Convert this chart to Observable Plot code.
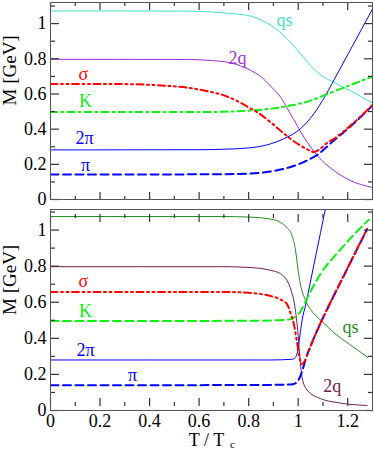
<!DOCTYPE html>
<html><head><meta charset="utf-8">
<script src="https://cdn.jsdelivr.net/npm/d3@7"></script>
<script src="https://cdn.jsdelivr.net/npm/@observablehq/plot@0.6"></script>
<style>
body{margin:0;background:#fff}
#c{position:relative;width:374px;height:450px}
#c svg{position:absolute;left:0;display:block;overflow:visible}
</style>
</head><body><div id="c"></div>
<script>
const xMajor = [0, 0.2, 0.4, 0.6, 0.8, 1, 1.2];
const xMinor = [0.1, 0.3, 0.5, 0.7, 0.9, 1.1];
const yMajor = [0, 0.2, 0.4, 0.6, 0.8, 1];
const yMinor = [0.1, 0.3, 0.5, 0.7, 0.9, 1.1];

const topQs = [[0,1.072],[0.55,1.071],[0.65,1.066],[0.73,1.057],[0.81,1.042],[0.85,1.02],[0.89,0.989],[0.94,0.935],[1.01,0.828],[1.05,0.761],[1.10,0.698],[1.144,0.667],[1.21,0.619],[1.3,0.548]];
const top2q = [[0,0.797],[0.55,0.796],[0.65,0.79],[0.727,0.777],[0.807,0.735],[0.848,0.70],[0.888,0.645],[0.929,0.582],[0.955,0.52],[0.982,0.455],[1.023,0.355],[1.077,0.25],[1.144,0.165],[1.211,0.108],[1.3,0.068]];
const topSigma = [[0,0.657],[0.3,0.656],[0.45,0.648],[0.55,0.636],[0.646,0.612],[0.70,0.592],[0.767,0.55],[0.807,0.518],[0.834,0.497],[0.888,0.44],[0.93,0.39],[0.969,0.345],[1.009,0.307],[1.04,0.282],[1.063,0.27],[1.085,0.284],[1.117,0.322],[1.144,0.345],[1.211,0.42],[1.3,0.537]];
const topK = [[0,0.497],[0.6,0.497],[0.7,0.499],[0.807,0.506],[0.888,0.516],[0.969,0.534],[1.05,0.562],[1.11,0.595],[1.2,0.645],[1.3,0.699]];
const top2pi = [[0,0.282],[0.6,0.283],[0.7,0.286],[0.807,0.294],[0.888,0.316],[0.942,0.345],[1.009,0.402],[1.063,0.487],[1.11,0.591],[1.137,0.66],[1.211,0.852],[1.3,1.083]];
const topPi = [[0,0.142],[0.6,0.143],[0.7,0.144],[0.807,0.148],[0.888,0.159],[0.969,0.185],[1.036,0.222],[1.077,0.254],[1.144,0.335],[1.211,0.415],[1.3,0.535]];

const botQs = [[0,1.075],[0.7,1.075],[0.8,1.072],[0.888,1.061],[0.929,1.042],[0.955,1.013],[0.976,0.966],[0.989,0.89],[0.998,0.795],[1.009,0.70],[1.03,0.61],[1.05,0.56],[1.09,0.502],[1.157,0.417],[1.225,0.35],[1.281,0.294]];
const bot2q = [[0,0.797],[0.7,0.797],[0.8,0.793],[0.888,0.777],[0.929,0.758],[0.955,0.72],[0.972,0.663],[0.985,0.59],[0.998,0.445],[1.006,0.31],[1.016,0.18],[1.036,0.114],[1.09,0.066],[1.157,0.044],[1.278,0.028]];
const botSigma = [[0,0.657],[0.7,0.657],[0.8,0.652],[0.888,0.635],[0.929,0.615],[0.955,0.59],[0.969,0.54],[0.982,0.483],[0.995,0.38],[1.006,0.29],[1.013,0.256],[1.025,0.27],[1.04,0.32],[1.06,0.39],[1.09,0.485],[1.13,0.60],[1.2,0.792],[1.278,1.006]];
const botK = [[0,0.496],[0.8,0.497],[0.888,0.499],[0.962,0.505],[0.989,0.52],[1.009,0.549],[1.023,0.585],[1.05,0.66],[1.09,0.757],[1.157,0.871],[1.225,0.975],[1.285,1.057]];
const bot2pi = [[0,0.28],[0.8,0.28],[0.888,0.28],[0.976,0.284],[0.989,0.294],[0.998,0.331],[1.006,0.407],[1.016,0.502],[1.03,0.585],[1.06,0.785],[1.09,0.985],[1.12,1.185]];
const botPi = [[0,0.14],[0.8,0.141],[0.888,0.142],[0.95,0.143],[0.982,0.147],[1.002,0.17],[1.016,0.218],[1.03,0.284],[1.06,0.39],[1.09,0.483],[1.13,0.597],[1.2,0.79],[1.278,1.004]];

const topLabels = [
  {t:0.945, m:1.020, s:"qs", c:"#40e0d0"},
  {t:0.755, m:0.804, s:"2q", c:"#9b30d8"},
  {t:0.133, m:0.710, s:"σ", c:"#ff0000"},
  {t:0.141, m:0.557, s:"K", c:"#11ee11"},
  {t:0.137, m:0.347, s:"2π", c:"#0000ff"},
  {t:0.141, m:0.193, s:"π", c:"#0000ff"}
];
const botLabels = [
  {t:1.211, m:0.460, s:"qs", c:"#228b22"},
  {t:1.138, m:0.136, s:"2q", c:"#70204f"},
  {t:0.133, m:0.716, s:"σ", c:"#ff0000"},
  {t:0.141, m:0.548, s:"K", c:"#11ee11"},
  {t:0.141, m:0.335, s:"2π", c:"#0000ff"},
  {t:0.331, m:0.193, s:"π", c:"#0000ff"}
];

const SERIF = "Liberation Serif, Times New Roman, serif";
const FRAME = "#555";
const TICK = "#333";
const W = 374, ML = 50, MR = 2;
const FW = W - ML - MR;

// inward ticks: axis tick marks drawn from the opposite side, shifted across the frame
function tickMarks(fh) {
  const o = {stroke: TICK, strokeWidth: 1.2, fill: "none", label: null};
  return [
    Plot.axisX(xMajor, {anchor: "top", tickSize: 8, dy: fh, ...o}),
    Plot.axisX(xMinor, {anchor: "top", tickSize: 4, dy: fh, ...o}),
    Plot.axisX(xMajor, {anchor: "bottom", tickSize: 8, dy: -fh, ...o}),
    Plot.axisX(xMinor, {anchor: "bottom", tickSize: 4, dy: -fh, ...o}),
    Plot.axisY(yMajor, {anchor: "right", tickSize: 8, dx: -FW, ...o}),
    Plot.axisY(yMinor, {anchor: "right", tickSize: 4, dx: -FW, ...o}),
    Plot.axisY(yMajor, {anchor: "left", tickSize: 8, dx: FW, ...o}),
    Plot.axisY(yMinor, {anchor: "left", tickSize: 4, dx: FW, ...o})
  ];
}

function curves(s, colQs, col2q) {
  const X = d => d[0], Y = d => d[1];
  const c = "monotone-x";
  return [
    Plot.line(s.qs, {x: X, y: Y, stroke: colQs, strokeWidth: 1, curve: c, clip: true}),
    Plot.line(s.q2, {x: X, y: Y, stroke: col2q, strokeWidth: 1, curve: c, clip: true}),
    Plot.line(s.pi2, {x: X, y: Y, stroke: "#0000ff", strokeWidth: 1, curve: c, clip: true}),
    Plot.line(s.k, {x: X, y: Y, stroke: "#11ee11", strokeWidth: 2, curve: c, clip: true, strokeDasharray: s.kDash}),
    Plot.line(s.pi, {x: X, y: Y, stroke: "#0000ff", strokeWidth: 2, curve: c, clip: true, strokeDasharray: "8,4.5"}),
    Plot.line(s.sigma, {x: X, y: Y, stroke: "#ff0000", strokeWidth: 2, curve: c, clip: true, strokeDasharray: "7,3.5,2,3.5,2,3.5"})
  ];
}

function labelMarks(lbls) {
  return Plot.text(lbls, {x: "t", y: "m", text: "s", fill: "c", fontSize: 18, fontFamily: SERIF});
}

function yTickLabels() {
  return Plot.axisY(yMajor, {anchor: "left", tickSize: 0, tickPadding: 4, stroke: "none",
    fill: "black", fontSize: 18, fontFamily: SERIF, tickFormat: d => String(d), label: null});
}

function yTitle(dy) {
  return Plot.text(["M [GeV]"], {frameAnchor: "left", dx: -41, dy, rotate: -90, fontSize: 19,
    fontFamily: SERIF, fill: "black", ariaLabel: "ytitle"});
}

const topSvg = Plot.plot({
  width: W, height: 212,
  marginLeft: ML, marginRight: MR, marginTop: 2, marginBottom: 13,
  style: {background: "transparent", overflow: "visible"},
  x: {domain: [0, 1.3], axis: null},
  y: {domain: [0, 1.12], axis: null},
  marks: [
    ...curves({qs: topQs, q2: top2q, pi2: top2pi, k: topK, pi: topPi, sigma: topSigma, kDash: "7,4,2,4"}, "#40e0d0", "#9b30d8"),
    labelMarks(topLabels),
    ...tickMarks(197),
    yTickLabels(),
    yTitle(4.5),
    Plot.frame({stroke: FRAME, strokeWidth: 1})
  ]
});

const botSvg = Plot.plot({
  width: W, height: 245,
  marginLeft: ML, marginRight: MR, marginTop: 4, marginBottom: 40,
  style: {background: "transparent", overflow: "visible"},
  x: {domain: [0, 1.3], axis: null},
  y: {domain: [0, 1.114], axis: null},
  marks: [
    ...curves({qs: botQs, q2: bot2q, pi2: bot2pi, k: botK, pi: botPi, sigma: botSigma, kDash: "8,4.5"}, "#228b22", "#70204f"),
    labelMarks(botLabels),
    ...tickMarks(196),
    yTickLabels(),
    Plot.axisX(xMajor, {anchor: "bottom", tickSize: 0, tickPadding: 4, stroke: "none",
      fill: "black", fontSize: 18, fontFamily: SERIF, tickFormat: d => String(d), label: null}),
    yTitle(5),
    Plot.text(["T / T"], {frameAnchor: "bottom", dx: -22.7, dy: 35.5, textAnchor: "start", lineAnchor: "bottom",
      fontSize: 18, fontFamily: SERIF, fill: "black", ariaLabel: "xtitle"}),
    Plot.text(["c"], {frameAnchor: "bottom", dx: 18.5, dy: 37.5, textAnchor: "start", lineAnchor: "bottom",
      fontSize: 11, fontFamily: SERIF, fill: "black"}),
    Plot.frame({stroke: FRAME, strokeWidth: 1})
  ]
});

const c = document.getElementById("c");
botSvg.style.top = "205px";
topSvg.style.top = "0px";
c.appendChild(botSvg);
c.appendChild(topSvg);
d3.selectAll('g[aria-label="ytitle"] text').style("letter-spacing", "2px");
d3.selectAll('g[aria-label="xtitle"] text').style("letter-spacing", "1px");
</script>
</body></html>
